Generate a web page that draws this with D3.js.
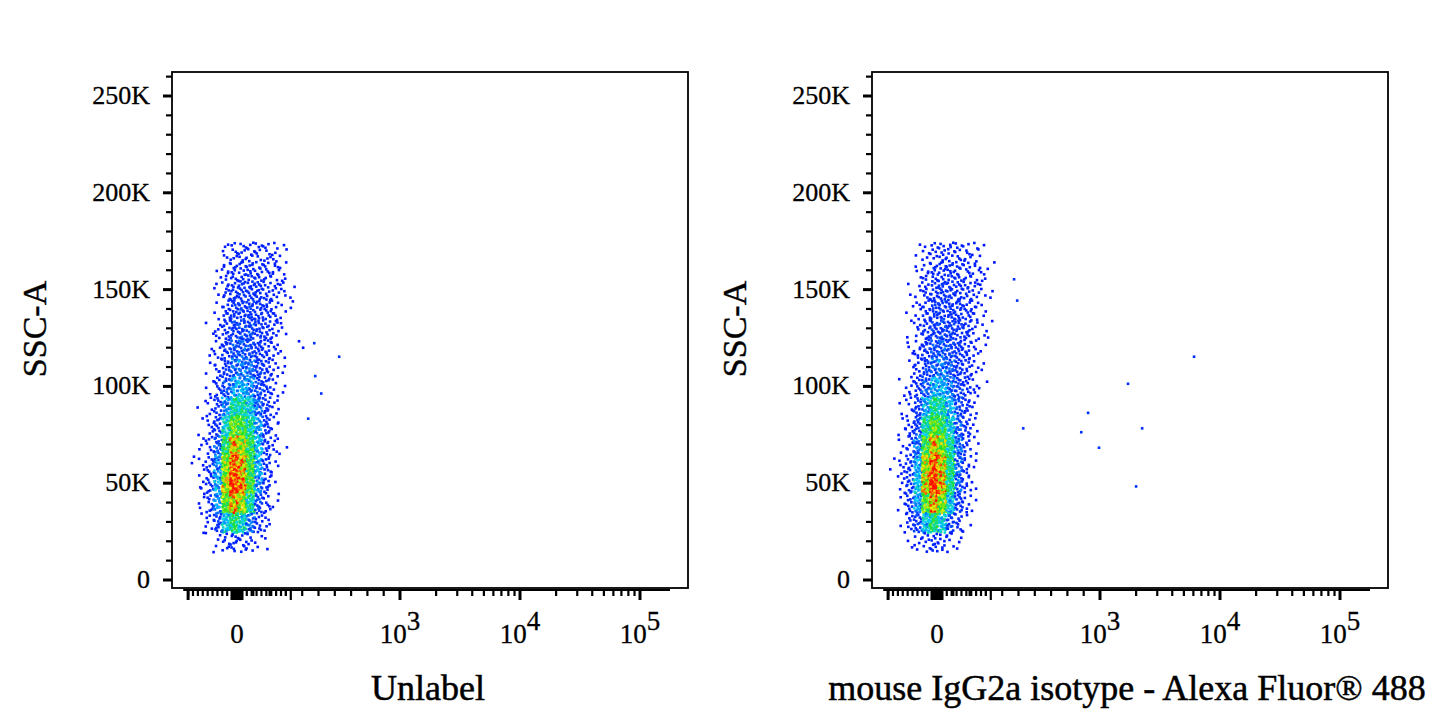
<!DOCTYPE html>
<html><head><meta charset="utf-8">
<script src="https://cdn.jsdelivr.net/npm/d3@7"></script>
<style>body{margin:0;background:#fff}svg{font-family:"Liberation Serif","Times New Roman",serif}</style>
</head><body><div id="chart"></div>
<script>
// density grid: event counts per cell
var xBins = [-275, -225, -175, -125, -75, -25, 25, 75, 125, 175, 225, 275, 325, 375];
var yBins = [170000, 160000, 150000, 140000, 130000, 120000, 110000, 100000, 90000, 80000, 70000, 60000, 50000, 40000, 30000, 20000];
var countsUnlabel = [
  [0,0,0,0,3,5,6,6,5,5,4,2,0,0],
  [0,0,0,1,5,7,8,8,7,6,5,3,0,0],
  [0,0,0,2,6,9,10,10,9,7,5,3,1,0],
  [0,0,0,2,7,10,11,11,10,8,5,2,1,0],
  [0,0,1,3,8,11,12,12,10,8,5,2,0,0],
  [0,0,1,4,9,12,13,12,10,8,4,1,0,1],
  [0,0,1,5,10,14,15,14,11,8,4,1,0,0],
  [0,0,2,6,12,17,18,16,12,8,3,1,0,0],
  [0,1,3,8,16,24,24,20,14,9,3,0,0,0],
  [0,1,4,10,22,32,30,24,16,9,3,0,0,0],
  [0,2,5,13,28,40,36,28,18,9,3,1,0,0],
  [1,2,7,16,34,48,42,30,18,8,2,0,0,0],
  [0,3,8,18,38,52,44,30,16,7,2,0,0,0],
  [0,2,7,16,32,42,36,24,12,5,1,0,0,0],
  [0,1,4,10,20,26,22,14,7,3,0,0,0,0],
  [0,0,1,2,5,7,6,4,2,1,0,0,0,0]
];
var countsIsotype = [
  [0,0,0,1,3,5,6,6,5,5,3,1,0,0],
  [0,0,0,2,5,7,8,8,7,6,4,3,1,0],
  [0,0,1,2,6,9,10,10,8,7,5,2,1,0],
  [0,0,1,3,7,10,11,10,9,7,5,2,0,0],
  [0,0,1,4,8,11,12,11,10,8,4,2,1,0],
  [0,0,2,5,9,12,13,12,10,7,4,1,0,0],
  [0,0,2,6,11,14,15,13,10,7,3,1,0,0],
  [0,1,3,7,13,18,18,15,11,7,3,1,0,0],
  [0,1,4,10,18,25,23,18,12,7,2,0,0,0],
  [0,2,5,12,24,32,28,21,13,7,2,0,0,0],
  [0,2,6,15,30,40,34,24,14,6,2,0,0,0],
  [1,3,8,18,36,48,40,26,14,6,1,0,0,0],
  [0,3,9,20,40,52,42,26,13,5,1,0,0,0],
  [0,2,8,17,32,42,34,20,10,4,1,0,0,0],
  [0,1,5,11,20,26,20,12,6,2,0,0,0,0],
  [0,0,1,3,5,7,5,3,2,0,0,0,0,0]
];
var outliersUnlabel = [[466,123000],[619,116000],[472,106000],[509,97000],[429,84000]];
var outliersIsotype = [[5930,116000],[1670,102000],[919,87000],[877,77000],[986,69000],[2190,79000],[1950,49000],[521,79000],[484,145000],[465,156000]];
var yTicks = [0, 50000, 100000, 150000, 200000, 250000];
var yTickLabels = ["0", "50K", "100K", "150K", "200K", "250K"];
var xMajor = [0, 1000, 10000, 100000];
var xTitles = ["Unlabel", "mouse IgG2a isotype - Alexa Fluor® 488"];

var W = 1445, H = 723;
var svg = d3.select("#chart").append("svg").attr("width", W).attr("height", H);

// biexponential-like display transform: linear below 1000, log above
var K = 163 / 120;
function tf(v) { return v >= 1000 ? Math.log10(v) - 3 + K : v / 1000 * K; }

function jet(c) {
  var s = d3.scaleLinear().domain([0, 12, 20, 30, 40, 50])
    .range(["#0010ff", "#0030ff", "#00d0ff", "#20e020", "#f0f000", "#ff1000"]).clamp(true);
  return s(c);
}
function halton(i, b) { var f = 1, r = 0; while (i > 0) { f /= b; r += f * (i % b); i = Math.floor(i / b); } return r; }

function panel(ox, counts, outliers, title, titleX) {
  var x = d3.scaleLinear().domain([tf(0), tf(1000)]).range([ox + 237, ox + 400]);
  var xp = function (v) { return x(tf(v)); };
  var y = d3.scaleLinear().domain([0, 250000]).range([580, 96]);
  var g = svg.append("g");

  g.append("rect").attr("x", ox + 172).attr("y", 72).attr("width", 516).attr("height", 516)
    .attr("fill", "none").attr("stroke", "#000").attr("stroke-width", 1.8);

  // y axis
  d3.range(0, 260001, 10000).forEach(function (v) {
    var major = v % 50000 === 0;
    g.append("line").attr("x1", ox + 172).attr("x2", ox + 172 - (major ? 9 : 6))
      .attr("y1", y(v)).attr("y2", y(v)).attr("stroke", "#000").attr("stroke-width", major ? 3 : 2.2);
  });
  yTicks.forEach(function (v, i) {
    g.append("text").attr("x", ox + 150).attr("y", y(v) + 8).attr("text-anchor", "end")
      .attr("font-size", 26).attr("textLength", v ? null : null).attr("stroke", "#000").attr("stroke-width", 0.3).text(yTickLabels[i]);
  });
  g.append("text").attr("transform", "translate(" + (ox + 46) + ",329) rotate(-90)")
    .attr("text-anchor", "middle").attr("font-size", 34).attr("stroke", "#000").attr("stroke-width", 0.4).text("SSC-A");

  // x axis ticks
  var ay = 590;
  var minor = d3.range(-300, 301, 30).concat([330]);
  [1000, 10000].forEach(function (d) { for (var m = 2; m <= 9; m++) minor.push(d * m); });
  minor.push(100, 200, 300, 400, 500, 600, 700, 800, 900);
  minor.forEach(function (v) {
    g.append("line").attr("x1", xp(v)).attr("x2", xp(v)).attr("y1", ay).attr("y2", ay + (v === 330 ? 10 : 6))
      .attr("stroke", "#000").attr("stroke-width", 2.2);
  });
  g.append("rect").attr("x", xp(-40)).attr("y", ay).attr("width", xp(40) - xp(-40)).attr("height", 10).attr("fill", "#000");
  xMajor.concat([-300]).forEach(function (v) {
    g.append("line").attr("x1", xp(v)).attr("x2", xp(v)).attr("y1", ay).attr("y2", ay + 10)
      .attr("stroke", "#000").attr("stroke-width", 3);
  });
  g.append("line").attr("x1", xp(-330)).attr("x2", ox + 670).attr("y1", ay).attr("y2", ay).attr("stroke", "#000").attr("stroke-width", 2);
  xMajor.forEach(function (v) {
    var t = g.append("text").attr("x", xp(v)).attr("y", 643).attr("text-anchor", "middle").attr("font-size", 27)
      .attr("stroke", "#000").attr("stroke-width", 0.3);
    if (v === 0) t.text("0");
    else { t.text("10"); t.append("tspan").attr("dy", -13).attr("font-size", 27).text(String(Math.round(Math.log10(v)))); }
  });
  g.append("text").attr("x", titleX).attr("y", 700).attr("text-anchor", "middle")
    .attr("font-size", 36).attr("stroke", "#000").attr("stroke-width", 0.5).text(title);

  // density dots
  var dx = xp(25) - xp(-25), dy = y(0) - y(10000);
  var idx = 1;
  counts.forEach(function (row, r) {
    row.forEach(function (c, ci) {
      var cx = xp(xBins[ci]) - dx / 2, cy = y(yBins[r]) - dy / 2;
      var n = Math.round(c * 1.5);
      for (var k = 0; k < n; k++) {
        idx++;
        g.append("rect").attr("x", cx + halton(idx, 2) * dx).attr("y", cy + halton(idx, 3) * dy)
          .attr("width", 2.6).attr("height", 2.6).attr("fill", jet(c * (0.75 + 0.5 * halton(idx, 5))));
      }
    });
  });
  outliers.forEach(function (p) {
    g.append("rect").attr("x", xp(p[0])).attr("y", y(p[1])).attr("width", 2.6).attr("height", 2.6).attr("fill", "#0030ff");
  });
}
panel(0, countsUnlabel, outliersUnlabel, xTitles[0], 428);
panel(700, countsIsotype, outliersIsotype, xTitles[1], 1127);
</script></body></html>
